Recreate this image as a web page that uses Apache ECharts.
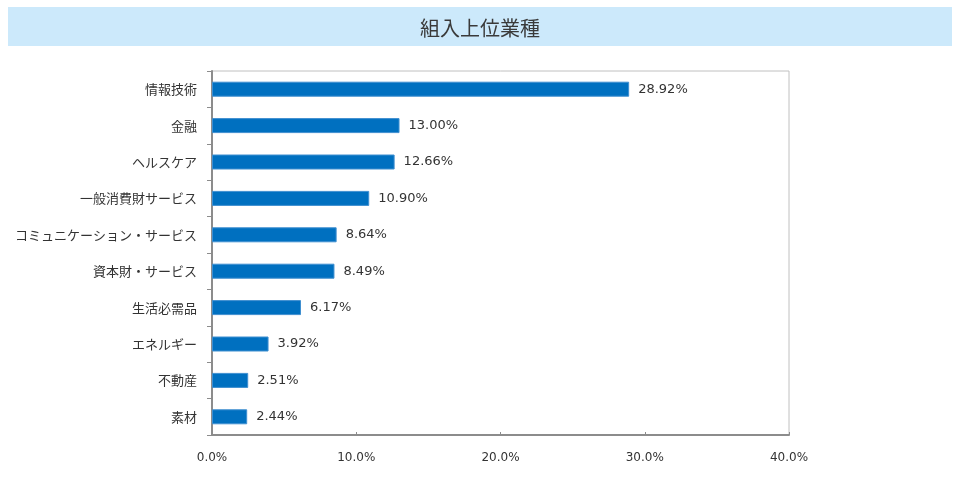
<!DOCTYPE html>
<html>
<head>
<meta charset="utf-8">
<script src="https://cdn.jsdelivr.net/npm/echarts@6/dist/echarts.min.js"></script>
<style>
html,body{margin:0;padding:0;background:#fff;}
#chart{width:960px;height:477px;}
</style>
</head>
<body>
<div id="chart"></div>
<script>
const titleText = '組入上位業種';
const categories = ['情報技術','金融','ヘルスケア','一般消費財サービス','コミュニケーション・サービス','資本財・サービス','生活必需品','エネルギー','不動産','素材'];
const values = [28.92, 13.00, 12.66, 10.90, 8.64, 8.49, 6.17, 3.92, 2.51, 2.44];
const xMin = 0, xMax = 40, xStep = 10;

const FONT = '"Noto Sans CJK JP", "Noto Sans", sans-serif';
const NUMFONT = '"DejaVu Sans", Verdana, sans-serif';
const chart = echarts.init(document.getElementById('chart'), null, {renderer: 'canvas'});
chart.setOption({
  backgroundColor: '#ffffff',
  animation: false,
  title: {
    text: titleText, left: 'center', top: 13,
    textStyle: {color: '#3a3a3a', fontSize: 20, fontWeight: 'normal', fontFamily: FONT}
  },
  graphic: [
    {type: 'rect', left: 8, top: 7, shape: {width: 944, height: 39}, style: {fill: '#cce9fb'}, z: -10, silent: true}
  ],
  grid: {left: 212, right: 171, top: 71, bottom: 42, show: true, borderColor: '#c0c0c0', borderWidth: 1, backgroundColor: 'transparent'},
  xAxis: {
    type: 'value', min: xMin, max: xMax, interval: xStep,
    axisLine: {show: true, lineStyle: {color: '#8c8c8c', width: 2}},
    axisTick: {show: true, inside: true, length: 3, lineStyle: {color: '#8c8c8c'}},
    splitLine: {show: false},
    axisLabel: {margin: 17, color: '#333', fontSize: 12, fontFamily: NUMFONT, formatter: v => v.toFixed(1) + '%'}
  },
  yAxis: {
    type: 'category', data: categories, inverse: true,
    axisLine: {show: true, lineStyle: {color: '#8c8c8c', width: 2}},
    axisTick: {show: true, length: 5, lineStyle: {color: '#8c8c8c'}},
    axisLabel: {margin: 15, color: '#333', fontSize: 13, fontFamily: FONT}
  },
  series: [{
    type: 'bar', data: values, barWidth: 15,
    itemStyle: {color: '#0070c0', borderColor: '#3f8fd0', borderWidth: 1},
    label: {show: true, position: 'right', distance: 9, color: '#333', fontSize: 13, fontFamily: NUMFONT, formatter: p => p.value.toFixed(2) + '%'}
  }]
});
</script>
</body>
</html>
